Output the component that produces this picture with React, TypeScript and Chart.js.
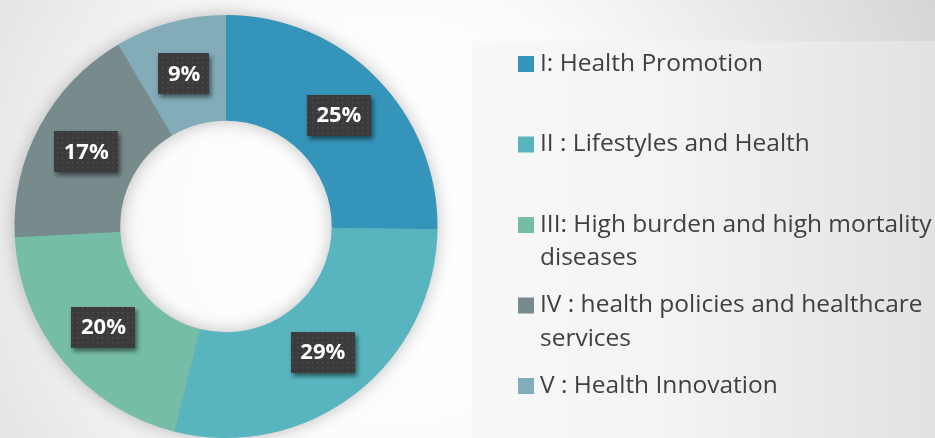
import React, { useEffect, useRef } from 'react';
import { Chart, registerables } from 'chart.js';

Chart.register(...registerables);

// ---- data ----
const categories: string[] = [
  'I: Health Promotion',
  'II : Lifestyles and Health',
  'III: High burden and high mortality diseases',
  'IV : health policies and healthcare services',
  'V : Health Innovation',
];
const shares: number[] = [25.2, 28.7, 20.3, 17.3, 8.5];
const sliceColors: string[] = ['#3594BA', '#58B5BF', '#76BDA8', '#788B8C', '#82ACB7'];

const W = 935;
const H = 438;

function makeDotPattern(ctx: CanvasRenderingContext2D) {
  const c = document.createElement('canvas');
  c.width = 5;
  c.height = 5;
  const p = c.getContext('2d')!;
  p.fillStyle = '#3b3b3b';
  p.fillRect(0, 0, 5, 5);
  p.fillStyle = '#4d4d4d';
  p.fillRect(2, 2, 1.5, 1.5);
  return ctx.createPattern(c, 'repeat') || '#3b3b3b';
}

function wrapText(ctx: CanvasRenderingContext2D, text: string, maxW: number): string[] {
  const words = text.split(' ');
  const lines: string[] = [];
  let cur = '';
  for (const w of words) {
    const test = cur ? cur + ' ' + w : w;
    if (cur && ctx.measureText(test).width > maxW) {
      lines.push(cur);
      cur = w;
    } else {
      cur = test;
    }
  }
  if (cur) lines.push(cur);
  return lines;
}

const decoPlugin = {
  id: 'deco',
  beforeDraw(chart: any) {
    const { ctx, width, height } = chart;
    ctx.save();
    const g = ctx.createRadialGradient(390, 220, 0, 390, 220, 650);
    g.addColorStop(0, '#ffffff');
    g.addColorStop(0.35, '#fcfcfc');
    g.addColorStop(0.68, '#e5e5e5');
    g.addColorStop(1, '#cfcfcf');
    ctx.fillStyle = g;
    ctx.fillRect(0, 0, width, height);

    const lg = ctx.createLinearGradient(472, 0, width, 0);
    lg.addColorStop(0, '#f8f8f8');
    lg.addColorStop(0.4, '#f4f4f4');
    lg.addColorStop(1, '#e2e2e2');
    ctx.fillStyle = lg;
    ctx.fillRect(472, 41, width - 472, height - 41);
    ctx.restore();
  },
  beforeDatasetsDraw(chart: any) {
    const meta = chart.getDatasetMeta(0);
    if (!meta.data.length) return;
    const arc = meta.data[0];
    const { x, y, outerRadius, innerRadius } = arc.getProps(['x', 'y', 'outerRadius', 'innerRadius'], true);
    const ctx = chart.ctx;
    ctx.save();
    ctx.beginPath();
    ctx.arc(x, y, outerRadius - 1, 0, Math.PI * 2);
    ctx.arc(x, y, innerRadius + 1, 0, Math.PI * 2, true);
    ctx.closePath();
    ctx.shadowColor = 'rgba(0,0,0,0.28)';
    ctx.shadowBlur = 18;
    ctx.fillStyle = '#6e9ca8';
    ctx.fill();
    ctx.restore();
  },
  afterDatasetsDraw(chart: any) {
    const meta = chart.getDatasetMeta(0);
    const ctx = chart.ctx;
    const data: number[] = chart.data.datasets[0].data;
    const total = data.reduce((a, b) => a + b, 0);
    const pattern = makeDotPattern(ctx);
    ctx.save();
    ctx.font = 'bold 22px "Open Sans"';
    meta.data.forEach((arc: any, i: number) => {
      const { x, y } = arc.tooltipPosition(true);
      const label = Math.round((data[i] / total) * 100) + '%';
      const tw = ctx.measureText(label).width;
      const bw = tw + 19;
      const bh = 41;
      ctx.save();
      ctx.shadowColor = 'rgba(0,0,0,0.55)';
      ctx.shadowBlur = 5;
      ctx.shadowOffsetX = 2;
      ctx.shadowOffsetY = 3;
      ctx.fillStyle = pattern;
      ctx.fillRect(Math.round(x - bw / 2), Math.round(y - bh / 2), Math.round(bw), bh);
      ctx.restore();
      ctx.fillStyle = '#ffffff';
      ctx.textAlign = 'center';
      ctx.textBaseline = 'middle';
      ctx.fillText(label, x, y + 1);
    });
    ctx.restore();
  },
  afterDraw(chart: any) {
    const ctx = chart.ctx;
    const labels: string[] = chart.data.labels;
    const colors: string[] = chart.data.datasets[0].backgroundColor;
    ctx.save();
    ctx.font = '24.5px "Open Sans"';
    ctx.textAlign = 'left';
    ctx.textBaseline = 'middle';
    const boxX = 518;
    const textX = 540;
    const y0 = 64;
    const step = 80.5;
    const lineH = 33.5;
    labels.forEach((lab, i) => {
      const cy = y0 + i * step;
      ctx.fillStyle = colors[i];
      ctx.fillRect(boxX, cy - 8, 16, 16);
      ctx.fillStyle = '#404040';
      const lines = wrapText(ctx, lab, W - textX - 2);
      lines.forEach((ln, j) => ctx.fillText(ln, textX, cy + j * lineH));
    });
    ctx.restore();
  },
};

export default function App() {
  const ref = useRef<HTMLCanvasElement | null>(null);
  useEffect(() => {
    document.body.style.margin = '0';
    const canvas = ref.current!;
    const chart = new Chart(canvas, {
      type: 'doughnut',
      data: {
        labels: categories,
        datasets: [
          {
            data: shares,
            backgroundColor: sliceColors,
            borderWidth: 0,
          },
        ],
      },
      options: {
        responsive: false,
        animation: false,
        cutout: '50%',
        layout: { padding: { top: 15, left: 12, right: W - 440, bottom: -5 } },
        plugins: {
          legend: { display: false },
          tooltip: { enabled: false },
        },
      },
      plugins: [decoPlugin],
    });
    const fs: any = (document as any).fonts;
    if (fs && fs.load) {
      Promise.all([fs.load('24.5px "Open Sans"'), fs.load('bold 22px "Open Sans"')]).then(() => chart.update()).catch(() => {});
    }
    return () => chart.destroy();
  }, []);
  return (
    <div style={{ width: W, height: H, overflow: 'hidden' }}>
      <canvas ref={ref} width={W} height={H} style={{ display: 'block' }} />
    </div>
  );
}
